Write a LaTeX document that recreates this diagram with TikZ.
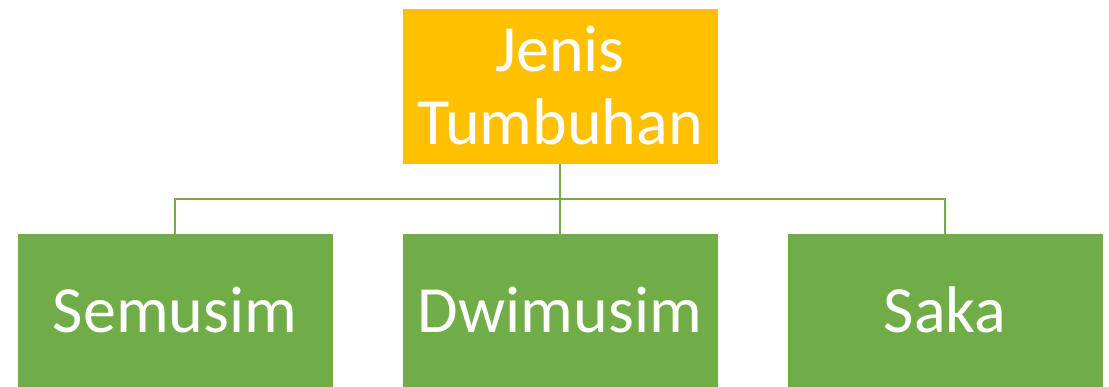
\documentclass[tikz,border=0pt]{standalone}
\usepackage{fontspec}
\setmainfont{Carlito}
\usetikzlibrary{positioning}
\definecolor{jorange}{HTML}{FFC000}
\definecolor{jgreen}{HTML}{70AD47}

\begin{document}
\begin{tikzpicture}[x=1pt,y=-1pt,semithick]
  \tikzstyle{box}=[rectangle,draw=white,line width=0.6pt,text=white,
                   minimum width=316pt,align=center,inner sep=0pt,
                   font=\fontsize{66}{73}\selectfont]
  \tikzstyle{kind}=[box,fill=jgreen,minimum height=154pt]
  \tikzstyle{link}=[draw=jgreen,line width=2pt]

  \useasboundingbox (0,0) rectangle (1109,387);

  \node[box,fill=jorange,minimum height=156pt] (root) at (560,86) {Jenis\\Tumbuhan};
  \node[kind] (semusim) at (175,310) {Semusim};
  \node[kind] (dwimusim) at (560,310) {Dwimusim};
  \node[kind] (saka) at (945,310) {Saka};

  \path[link] (root.south) -- ++(0,35) coordinate (bus);
  \path[link] (bus) -| ([yshift=-2pt]semusim.north)
              (bus) -- ([yshift=-2pt]dwimusim.north)
              (bus) -| ([yshift=-2pt]saka.north);
\end{tikzpicture}
\end{document}
